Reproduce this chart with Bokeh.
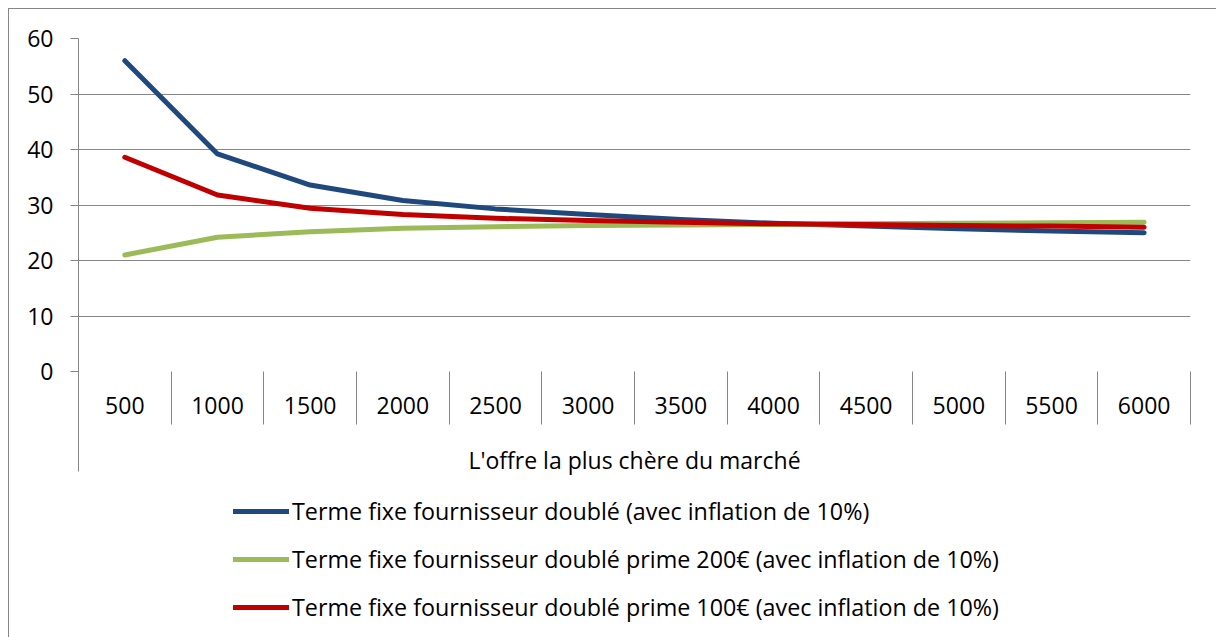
from bokeh.plotting import figure
from bokeh.models import Range1d, FixedTicker, LinearAxis, Legend, LegendItem, Grid
from bokeh.layouts import column
from bokeh.embed import file_html
from bokeh.resources import INLINE

categories = ["500", "1000", "1500", "2000", "2500", "3000",
              "3500", "4000", "4500", "5000", "5500", "6000"]
blue_values = [56.0, 39.2, 33.6, 30.8, 29.3, 28.3, 27.4, 26.7, 26.2, 25.7, 25.3, 25.0]
green_values = [21.0, 24.2, 25.2, 25.8, 26.1, 26.3, 26.4, 26.5, 26.6, 26.7, 26.8, 26.9]
red_values = [38.6, 31.8, 29.4, 28.3, 27.6, 27.2, 26.9, 26.6, 26.5, 26.3, 26.2, 26.0]
series_names = [
    "Terme fixe fournisseur doublé (avec inflation de 10%)",
    "Terme fixe fournisseur doublé prime 200€ (avec inflation de 10%)",
    "Terme fixe fournisseur doublé prime 100€ (avec inflation de 10%)",
]
group_label = "L'offre la plus chère du marché"
y_ticks = [0, 10, 20, 30, 40, 50, 60]

FONT = "Open Sans"
FS = "23px"
GRAY = "#868686"
colors = ["#1F497D", "#9BBB59", "#C00000"]

n = len(categories)
xs = list(range(n))

H1 = 470
H2 = 158
W = 1207

p = figure(width=W, height=H1, output_backend="svg", toolbar_location=None,
           x_range=Range1d(-0.5, n - 0.5), y_range=Range1d(0, 60),
           x_axis_location=None, y_axis_location=None,
           min_border_left=69, min_border_right=26, min_border_top=29,
           min_border_bottom=H1 - 362,
           outline_line_color=None)
for g in list(p.center):
    if isinstance(g, Grid):
        g.visible = False

yticker = FixedTicker(ticks=y_ticks, minor_ticks=[])
p.add_layout(Grid(dimension=1, ticker=yticker, grid_line_color=GRAY, grid_line_width=1))

yaxis = LinearAxis(ticker=yticker, major_tick_out=8, major_tick_in=0, minor_tick_out=0,
                   minor_tick_in=0, axis_line_color=GRAY, major_tick_line_color=GRAY,
                   major_label_standoff=17, major_label_text_font=FONT,
                   major_label_text_font_size=FS, major_label_text_color="black")
p.add_layout(yaxis, "left")

bounds = [i - 0.5 for i in range(n + 1)]
xaxis = LinearAxis(ticker=FixedTicker(ticks=xs, minor_ticks=bounds),
                   major_label_overrides={i: c for i, c in zip(xs, categories)},
                   major_tick_out=0, major_tick_in=0, minor_tick_out=53, minor_tick_in=0,
                   minor_tick_line_color=GRAY, axis_line_color=None,
                   major_label_standoff=-28, major_label_text_font=FONT,
                   major_label_text_font_size=FS, major_label_text_color="black")
p.add_layout(xaxis, "below")

gaxis = LinearAxis(ticker=FixedTicker(ticks=[-0.5], minor_ticks=[]),
                   major_label_overrides={-0.5: " "},
                   major_tick_in=50, major_tick_out=55, minor_tick_out=0, minor_tick_in=0,
                   major_tick_line_color=GRAY, axis_line_color=None,
                   major_label_text_font_size="1px", major_label_standoff=0,
                   axis_label=group_label, axis_label_standoff=-32,
                   axis_label_text_font=FONT, axis_label_text_font_size=FS,
                   axis_label_text_font_style="normal", axis_label_text_color="black")
p.add_layout(gaxis, "below")

renderers = []
for vals, col in zip([blue_values, green_values, red_values], colors):
    r = p.line(xs, vals, line_color=col, line_width=5, line_cap="round", line_join="round")
    renderers.append(r)

# legend figure below the chart (its frame is aligned with the chart's frame)
p2 = figure(width=W, height=H2, output_backend="svg", toolbar_location=None,
            x_range=Range1d(0, 1), y_range=Range1d(0, 1),
            x_axis_location=None, y_axis_location=None,
            min_border=0, outline_line_color=None)
for g in list(p2.center):
    if isinstance(g, Grid):
        g.visible = False
leg_renderers = []
for col in colors:
    leg_renderers.append(p2.line([-5, -4], [-5, -5], line_color=col, line_width=5,
                                 line_cap="round"))

legend = Legend(items=[LegendItem(label=nm, renderers=[r]) for nm, r in zip(series_names, leg_renderers)],
                orientation="vertical", location=(155, 14),
                label_text_font=FONT, label_text_font_size="23.3px", label_text_color="black",
                glyph_width=56, glyph_height=20, label_height=20, label_standoff=3,
                spacing=16, padding=0, margin=0,
                border_line_color=None, background_fill_alpha=0)
p2.add_layout(legend, "center")

layout = column(p, p2, spacing=0,
                styles={"margin-left": "8px", "margin-top": "8px",
                        "border-top": "1px solid #868686", "border-left": "1px solid #868686"})

open("out.html", "w").write(file_html(layout, INLINE))
